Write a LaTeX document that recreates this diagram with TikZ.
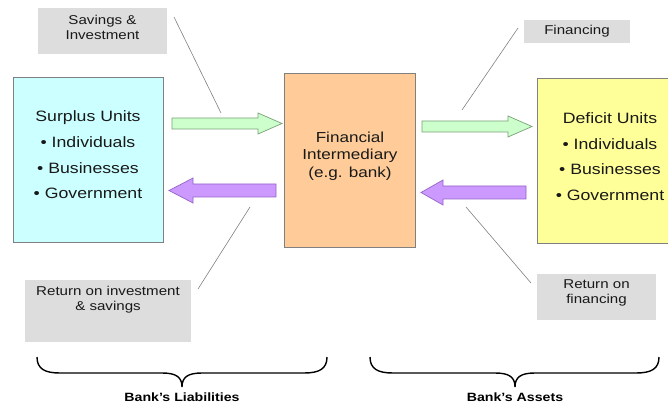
\documentclass[tikz,border=0pt]{standalone}
\usepackage{fontspec}
\setmainfont[FakeStretch=1.18]{Liberation Sans}
\definecolor{surplusfill}{RGB}{204,255,255}
\definecolor{bankfill}{RGB}{255,204,153}
\definecolor{deficitfill}{RGB}{255,255,153}
\definecolor{tagfill}{RGB}{221,221,221}
\definecolor{infill}{RGB}{204,255,204}
\definecolor{inedge}{RGB}{120,160,120}
\definecolor{outfill}{RGB}{204,153,255}
\definecolor{outedge}{RGB}{150,100,200}
\begin{document}
\begin{tikzpicture}[x=1pt,y=-1pt,
  unitbox/.style={draw=black!50,line width=0.8pt,rectangle,inner sep=0pt},
  tagbox/.style={fill=tagfill,rectangle,inner sep=0pt},
  tagtext/.style={font=\fontsize{12.8}{15}\selectfont,align=center,text=black!90},
  unittext/.style={font=\fontsize{15}{25.6}\selectfont,align=center,text=black!90},
  pointer/.style={draw=black!50,line width=0.6pt},
  flowin/.style={fill=infill,draw=inedge,line width=0.7pt},
  flowout/.style={fill=outfill,draw=outedge,line width=0.7pt},
  bracket/.style={draw=black,line width=1.4pt},
  bracetext/.style={font=\bfseries\fontsize{12}{12}\selectfont,inner sep=0pt}]
\useasboundingbox (0,0) rectangle (668,403);
\clip (0,0) rectangle (668,403);

% participant boxes
\node[unitbox,fill=surplusfill,minimum width=150pt,minimum height=165pt] (surplus) at (88,159.5) {};
\node[unitbox,fill=bankfill,minimum width=131pt,minimum height=174pt] (bank) at (349.5,160) {};
\node[unitbox,fill=deficitfill,minimum width=140pt,minimum height=165pt] (deficit) at (607,160.5) {};

\node[unittext] (surplustext) at (88,155) {Surplus Units\\• Individuals\\• Businesses\\• Government};
\node[unittext] (deficittext) at (610,156.5) {Deficit Units\\• Individuals\\• Businesses\\• Government};
\node[unittext,font=\fontsize{14.5}{17.5}\selectfont] (banktext) at (350,156) {Financial\\Intermediary\\(e.g. bank)};

% labels for the flows
\node[tagbox,minimum width=129pt,minimum height=46pt] (savings) at (102.5,31) {};
\node[tagtext] at (102.5,27.5) {Savings \&\\Investment};
\node[tagbox,minimum width=106pt,minimum height=23pt] (financing) at (577,31.5) {};
\node[tagtext] at (577,31.5) {Financing};
\node[tagbox,minimum width=166pt,minimum height=62pt] (retinv) at (108,311) {};
\node[tagtext] at (108,299.5) {Return on investment\\\& savings};
\node[tagbox,minimum width=119pt,minimum height=46pt] (retfin) at (596.5,297) {};
\node[tagtext] at (596.5,292.5) {Return on\\financing};

% pointer lines from labels to arrows
\coordinate (p1a) at (174,17);  \coordinate (p1b) at (221,113);
\coordinate (p2a) at (518,28);  \coordinate (p2b) at (462,110);
\coordinate (p3a) at (198,289); \coordinate (p3b) at (250,207);
\coordinate (p4a) at (531,283); \coordinate (p4b) at (466,207);
\draw[pointer] (p1a) -- (p1b);
\draw[pointer] (p2a) -- (p2b);
\draw[pointer] (p3a) -- (p3b);
\draw[pointer] (p4a) -- (p4b);

% block arrows: funds towards the bank and on to borrowers
\draw[flowin] (172,118) -- (258,118) -- (258,113) -- (282,123.5) -- (258,134) -- (258,129) -- (172,129) -- cycle;
\draw[flowin] (422,121) -- (508,121) -- (508,116) -- (532,126.5) -- (508,137) -- (508,132) -- (422,132) -- cycle;
% block arrows: returns flowing back
\draw[flowout] (276,184) -- (193,184) -- (193,178) -- (169,190.5) -- (193,203) -- (193,197) -- (276,197) -- cycle;
\draw[flowout] (526,186) -- (443,186) -- (443,180) -- (421,192.5) -- (443,205) -- (443,199) -- (526,199) -- cycle;

% braces grouping the two sides
\draw[bracket] (37,357) .. controls (37,369) and (45,373) .. (60,373) -- (162,373)
  .. controls (176,373) and (182,377) .. (182,387)
  .. controls (182,377) and (188,373) .. (202,373) -- (304,373)
  .. controls (319,373) and (327,369) .. (327,357);
\draw[bracket] (370,357) .. controls (370,369) and (378,373) .. (393,373) -- (495,373)
  .. controls (509,373) and (515,377) .. (515,387)
  .. controls (515,377) and (521,373) .. (535,373) -- (636,373)
  .. controls (651,373) and (659,369) .. (659,357);
\node[bracetext,anchor=base] (liab) at (182,401.5) {Bank’s Liabilities};
\node[bracetext,anchor=base] (assets) at (515,401.5) {Bank’s Assets};
\end{tikzpicture}
\end{document}
